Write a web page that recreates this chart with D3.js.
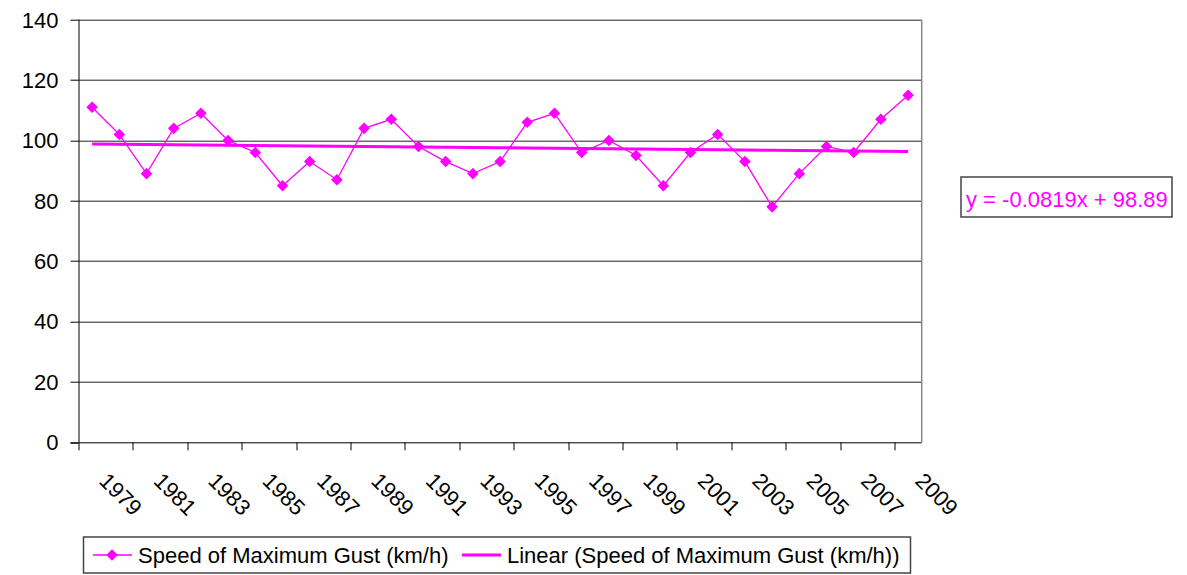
<!DOCTYPE html>
<html>
<head>
<meta charset="utf-8">
<script src="https://cdn.jsdelivr.net/npm/d3@7/dist/d3.min.js"></script>
<style>
  body { margin: 0; background: #fff; }
  text { font-family: "Liberation Sans", Arial, sans-serif; }
</style>
</head>
<body>
<svg id="chart" width="1187" height="575"></svg>
<script>
var years = [1979, 1980, 1981, 1982, 1983, 1984, 1985, 1986, 1987, 1988,
  1989, 1990, 1991, 1992, 1993, 1994, 1995, 1996, 1997, 1998, 1999, 2000,
  2001, 2002, 2003, 2004, 2005, 2006, 2007, 2008, 2009];
var gust = [111, 102, 89, 104, 109, 100, 96, 85, 93, 87,
  104, 107, 98, 93, 89, 93, 106, 109, 96, 100, 95, 85,
  96, 102, 93, 78, 89, 98, 96, 107, 115];
var yTicks = [0, 20, 40, 60, 80, 100, 120, 140];
var trendSlope = -0.0819, trendIntercept = 98.89;
var seriesName = "Speed of Maximum Gust (km/h)";
var trendName = "Linear (Speed of Maximum Gust (km/h))";
var equation = "y = -0.0819x + 98.89";

var svg = d3.select("#chart"),
  margin = {top: 19.7, right: 265.3, bottom: 132.7, left: 78.5},
  width = 1187 - margin.left - margin.right,
  height = 575 - margin.top - margin.bottom;

var magenta = "#ff00ff";

var x = d3.scaleBand().domain(years).range([0, width]).padding(0),
  y = d3.scaleLinear().domain([0, 140]).range([height, 0]);

var cx = function(yr) { return x(yr) + x.bandwidth() / 2; };

var g = svg.append("g")
  .attr("transform", "translate(" + margin.left + "," + margin.top + ")");

// gridlines
g.selectAll(".grid")
  .data(yTicks.filter(function(d) { return d > 0; }))
  .enter().append("line")
  .attr("x1", 0).attr("x2", width)
  .attr("y1", function(d) { return Math.round(y(d)) + 0.5; })
  .attr("y2", function(d) { return Math.round(y(d)) + 0.5; })
  .style("stroke", "#222").style("stroke-width", 1);

// right border of plot area
g.append("line")
  .attr("x1", width).attr("x2", width)
  .attr("y1", 0).attr("y2", height)
  .style("stroke", "#888").style("stroke-width", 1.5);

// y axis
g.append("line")
  .attr("x1", 0.5).attr("x2", 0.5).attr("y1", y(140)).attr("y2", height)
  .style("stroke", "#000");
g.selectAll(".ytick")
  .data(yTicks).enter().append("line")
  .attr("x1", -8).attr("x2", 0)
  .attr("y1", function(d) { return Math.round(y(d)) + 0.5; })
  .attr("y2", function(d) { return Math.round(y(d)) + 0.5; })
  .style("stroke", "#000");
g.selectAll(".ylab")
  .data(yTicks).enter().append("text")
  .attr("x", -20)
  .attr("y", function(d) { return y(d); })
  .attr("dy", "0.36em")
  .style("text-anchor", "end")
  .style("font-size", "22px")
  .text(function(d) { return d; });

// x axis
g.append("line")
  .attr("x1", -8).attr("x2", width).attr("y1", height + 0.5).attr("y2", height + 0.5)
  .style("stroke", "#000");
var labelYears = years.filter(function(d, i) { return i % 2 === 0; });
g.selectAll(".xtick")
  .data(labelYears).enter().append("line")
  .attr("x1", function(d) { return Math.round(x(d)) + 0.5; })
  .attr("x2", function(d) { return Math.round(x(d)) + 0.5; })
  .attr("y1", height).attr("y2", height + 8)
  .style("stroke", "#000");
g.selectAll(".xlab")
  .data(labelYears).enter().append("text")
  .attr("transform", function(d) {
    return "translate(" + (cx(d) + 6) + "," + (height + 40) + ") rotate(45)";
  })
  .style("font-size", "22px")
  .text(function(d) { return d; });

// series line
var line = d3.line()
  .x(function(d, i) { return cx(years[i]); })
  .y(function(d) { return y(d); });

g.append("path")
  .datum(gust)
  .attr("d", line)
  .style("fill", "none")
  .style("stroke", magenta)
  .style("stroke-width", 1.3);

var diamond = d3.symbol().type(d3.symbolDiamond2).size(85);

g.selectAll(".pt")
  .data(gust).enter().append("path")
  .attr("d", diamond)
  .attr("transform", function(d, i) { return "translate(" + cx(years[i]) + "," + y(d) + ")"; })
  .style("fill", magenta);

// trendline
var trend = years.map(function(yr, i) { return trendSlope * (i + 1) + trendIntercept; });
g.append("path")
  .datum(trend)
  .attr("d", line)
  .style("fill", "none")
  .style("stroke", magenta)
  .style("stroke-width", 3);

// equation label
var eq = svg.append("g");
eq.append("rect")
  .attr("x", 961).attr("y", 177).attr("width", 211).attr("height", 40)
  .style("fill", "#fff").style("stroke", "#444").style("stroke-width", 1.5);
eq.append("text")
  .attr("x", 966).attr("y", 207)
  .style("font-size", "22px")
  .style("fill", magenta)
  .text(equation);

// legend
var lg = svg.append("g");
lg.append("rect")
  .attr("x", 83.5).attr("y", 537).attr("width", 827).attr("height", 36)
  .style("fill", "#fff").style("stroke", "#444").style("stroke-width", 1.5);
lg.append("line")
  .attr("x1", 93).attr("x2", 132).attr("y1", 555).attr("y2", 555)
  .style("stroke", magenta).style("stroke-width", 1.3);
lg.append("path")
  .attr("d", diamond)
  .attr("transform", "translate(112,555)")
  .style("fill", magenta);
lg.append("text")
  .attr("x", 138).attr("y", 563)
  .style("font-size", "22px")
  .text(seriesName);
lg.append("line")
  .attr("x1", 462).attr("x2", 501).attr("y1", 555).attr("y2", 555)
  .style("stroke", magenta).style("stroke-width", 3);
lg.append("text")
  .attr("x", 507).attr("y", 563)
  .style("font-size", "22px")
  .text(trendName);
</script>
</body>
</html>
